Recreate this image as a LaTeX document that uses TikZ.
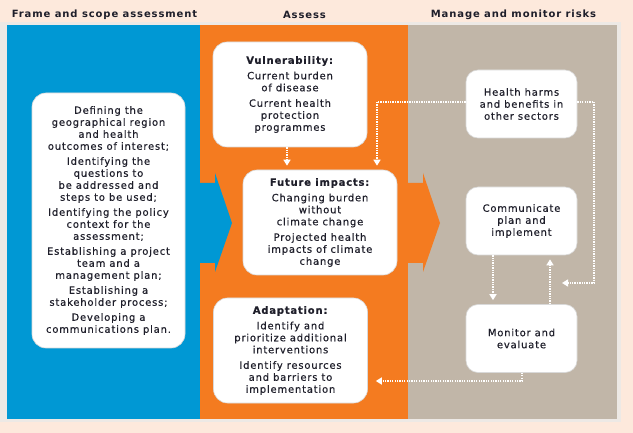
\documentclass[tikz,border=0pt]{standalone}
\usepackage{fontspec}
\setmainfont{DejaVu Sans}
\newfontfamily\bodyfont{DejaVu Sans}[LetterSpace=8, FakeBold=0.4]
\newfontfamily\headfont{DejaVu Sans}[LetterSpace=9]
\usetikzlibrary{arrows.meta}
\definecolor{peach}{RGB}{253,233,220}
\definecolor{framegrey}{RGB}{237,233,229}
\definecolor{pblue}{RGB}{0,152,212}
\definecolor{porange}{RGB}{244,123,32}
\definecolor{ptaupe}{RGB}{193,182,168}
\definecolor{tdark}{RGB}{30,30,42}
\tikzset{
  box/.style={draw=black!15, line width=0.6pt, fill=white, rounded corners=14pt,
    align=center, inner sep=0pt, text=tdark,
    font=\bodyfont\fontsize{10}{12}\selectfont},
  sbox/.style={box, rounded corners=12pt, minimum width=111pt, minimum height=68pt},
  bbox/.style={box, minimum width=154pt, minimum height=105pt},
  hdr/.style={font=\headfont\bfseries\fontsize{10}{12}\selectfont, text=tdark, inner sep=0pt},
  flow/.style={white, line width=1.4pt, dash pattern=on 1.3pt off 1.1pt,
    -{Triangle[width=7pt,length=6pt]}}
}
\begin{document}
\begin{tikzpicture}[x=1pt,y=-1pt]
\useasboundingbox (0,0) rectangle (633,433);
\fill[peach] (0,0) rectangle (633,433);
\fill[framegrey] (0,22) rectangle (621,422);
\fill[pblue] (7,25) rectangle (200,419);
\fill[porange] (200,25) rectangle (408,419);
\fill[ptaupe] (408,25) rectangle (617,419);
% chevrons
\fill[pblue] (199,183) -- (215,183) -- (215,173) -- (232,223) -- (215,272) -- (215,263) -- (199,263) -- cycle;
\fill[porange] (407,183) -- (423,183) -- (423,173) -- (440,223) -- (423,272) -- (423,263) -- (407,263) -- cycle;
% headers
\node[hdr] (h1) at (104.5,15) {Frame and scope assessment};
\node[hdr] (h2) at (304.5,15) {Assess};
\node[hdr] (h3) at (513.5,15) {Manage and monitor risks};
% boxes
\node[box, minimum width=153pt, minimum height=255pt] (frame) at (108.5,220.5) {%
Defining the\\geographical region\\and health\\outcomes of interest;\\[3pt]
Identifying the\\questions to\\be addressed and\\steps to be used;\\[3pt]
Identifying the policy\\context for the\\assessment;\\[3pt]
Establishing a project\\team and a\\management plan;\\[3pt]
Establishing a\\stakeholder process;\\[3pt]
Developing a\\communications plan.};
\node[bbox] (vul) at (290,94.5) {\textbf{Vulnerability:}\\[3.5pt]
Current burden\\of disease\\[3.5pt]Current health\\protection\\programmes};
\node[bbox] (fut) at (320,222.5) {\textbf{Future impacts:}\\[3.5pt]
Changing burden\\without\\climate change\\[3.5pt]Projected health\\impacts of climate\\change};
\node[bbox] (ada) at (290.5,350.5) {\textbf{Adaptation:}\\[3.5pt]
Identify and\\prioritize additional\\interventions\\[3.5pt]Identify resources\\and barriers to\\implementation};
\node[sbox] (harm) at (521.5,104) {Health harms\\and benefits in\\other sectors};
\node[sbox] (comm) at (521.5,221) {Communicate\\plan and\\implement};
\node[sbox] (mon) at (521.5,338.5) {Monitor and\\evaluate};
% connectors
\draw[flow, shorten >=4pt] (vul.south -| 287,0) -- (fut.north -| 287,0);
\draw[flow, shorten >=4pt] (harm.west |- 0,102) -- (377,102) -- (fut.north -| 377,0);
\coordinate (ret) at (562,283);
\draw[flow] (harm.east |- 0,102) -- (594,102) -- (594,283) -- (ret);
\draw[flow, shorten >=4pt] (comm.south -| 493,0) -- (mon.north -| 493,0);
\draw[flow, shorten >=4pt] (mon.north -| 550,0) -- (comm.south -| 550,0);
\draw[flow, shorten >=8pt] (mon.south -| 522,0) -- (522,381) -- (ada.east |- 0,381);
\end{tikzpicture}
\end{document}
